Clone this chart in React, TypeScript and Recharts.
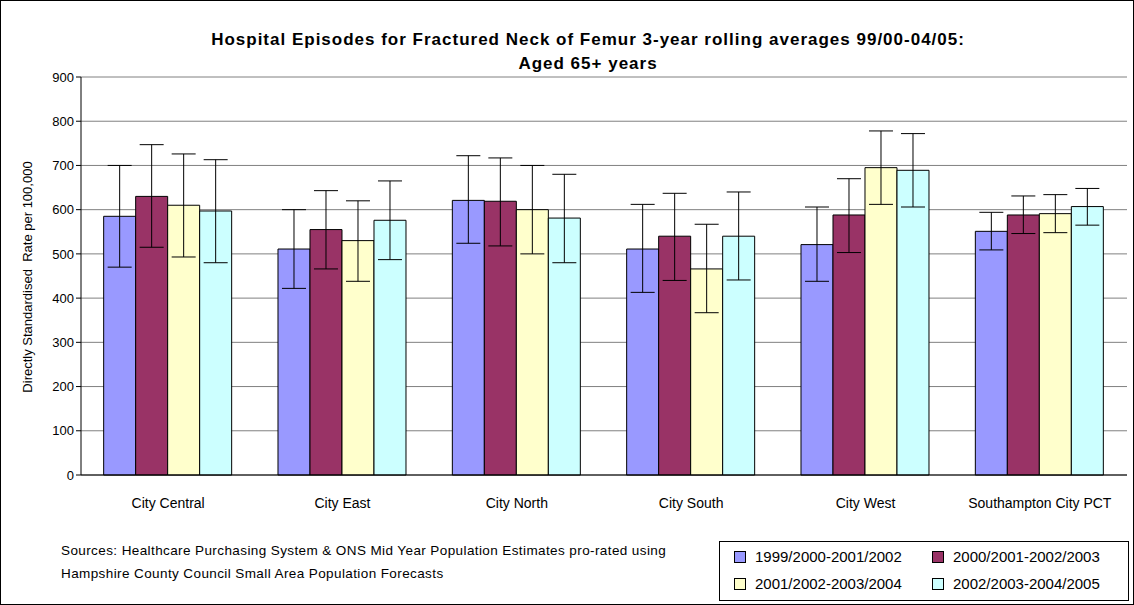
import React from 'react';
import { BarChart, Bar, XAxis, YAxis, CartesianGrid, ErrorBar } from 'recharts';

const categories = ['City Central', 'City East', 'City North', 'City South', 'City West', 'Southampton City PCT'];
const seriesNames = ['1999/2000-2001/2002', '2000/2001-2002/2003', '2001/2002-2003/2004', '2002/2003-2004/2005'];
const colors = ['#9999FF', '#993366', '#FFFFCC', '#CCFFFF'];
const s1 = [585, 511, 621, 511, 521, 551];
const s2 = [630, 555, 619, 540, 588, 588];
const s3 = [610, 530, 600, 466, 695, 591];
const s4 = [597, 576, 581, 540, 689, 607];
const lo1 = [470, 422, 524, 413, 438, 509];
const hi1 = [700, 600, 722, 612, 606, 594];
const lo2 = [515, 466, 518, 440, 503, 546];
const hi2 = [747, 643, 717, 637, 670, 631];
const lo3 = [493, 438, 500, 367, 612, 548];
const hi3 = [726, 620, 700, 567, 778, 634];
const lo4 = [480, 487, 480, 441, 606, 565];
const hi4 = [713, 665, 680, 640, 772, 648];
const yTicks = [0, 100, 200, 300, 400, 500, 600, 700, 800, 900];

const vals = [s1, s2, s3, s4];
const los = [lo1, lo2, lo3, lo4];
const his = [hi1, hi2, hi3, hi4];
const data = categories.map((c, i) => {
  const row: any = { name: c };
  for (let k = 0; k < 4; k++) {
    row['v' + k] = vals[k][i];
    row['e' + k] = [vals[k][i] - los[k][i], his[k][i] - vals[k][i]];
  }
  return row;
});

const font = '"Liberation Sans", Arial, sans-serif';

export default function App() {
  return (
    <div style={{ position: 'fixed', left: 0, top: 0, width: 1134, height: 605, background: '#fff', fontFamily: font, boxSizing: 'border-box', border: '1px solid #000' }}>
      <div style={{ position: 'absolute', top: 27, left: 0, width: 1174, textAlign: 'center', fontWeight: 'bold', fontSize: 17, letterSpacing: 1, lineHeight: '24px' }}>
        Hospital Episodes for Fractured Neck of Femur 3-year rolling averages 99/00-04/05:<br />Aged 65+ years
      </div>
      <div style={{ position: 'absolute', left: 18, top: 276, transform: 'translate(-50%,-50%) rotate(-90deg)', transformOrigin: 'center', whiteSpace: 'nowrap', fontSize: 13, marginLeft: 8 }}>
        Directly Standardised&nbsp; Rate per 100,000
      </div>
      <BarChart width={1134} height={530} data={data} margin={{ top: 76, right: 8, left: 30, bottom: 26 }} barCategoryGap="13%" barGap={0} style={{ position: 'absolute', left: 0, top: 0 }}>
        <CartesianGrid vertical={false} stroke="#808080" />
        <XAxis dataKey="name" stroke="#000" tickLine={false} tick={{ fill: '#000', fontSize: 14, fontFamily: font }} dy={15} />
        <YAxis domain={[0, 900]} ticks={yTicks} stroke="#000" tick={{ fill: '#000', fontSize: 13, fontFamily: font }} width={50} tickSize={5} />
        {[0, 1, 2, 3].map(k => (
          <Bar key={k} dataKey={'v' + k} fill={colors[k]} stroke="#000" strokeWidth={1} isAnimationActive={false}>
            <ErrorBar dataKey={'e' + k} width={12} stroke="#000" strokeWidth={1} />
          </Bar>
        ))}
      </BarChart>
      <div style={{ position: 'absolute', left: 60, top: 538, fontSize: 13.5, letterSpacing: 0.4, lineHeight: '23px' }}>
        Sources: Healthcare Purchasing System &amp; ONS Mid Year Population Estimates pro-rated using<br />Hampshire County Council Small Area Population Forecasts
      </div>
      <div style={{ position: 'absolute', left: 718, top: 540, width: 410, height: 60, border: '1px solid #000', boxSizing: 'border-box', fontSize: 15 }}>
        {seriesNames.map((n, k) => (
          <div key={k} style={{ position: 'absolute', left: k % 2 === 0 ? 14 : 212, top: k < 2 ? 6 : 33, display: 'flex', alignItems: 'center' }}>
            <span style={{ display: 'inline-block', width: 10, height: 10, background: colors[k], border: '1px solid #000', marginRight: 9 }} />
            {n}
          </div>
        ))}
      </div>
    </div>
  );
}
